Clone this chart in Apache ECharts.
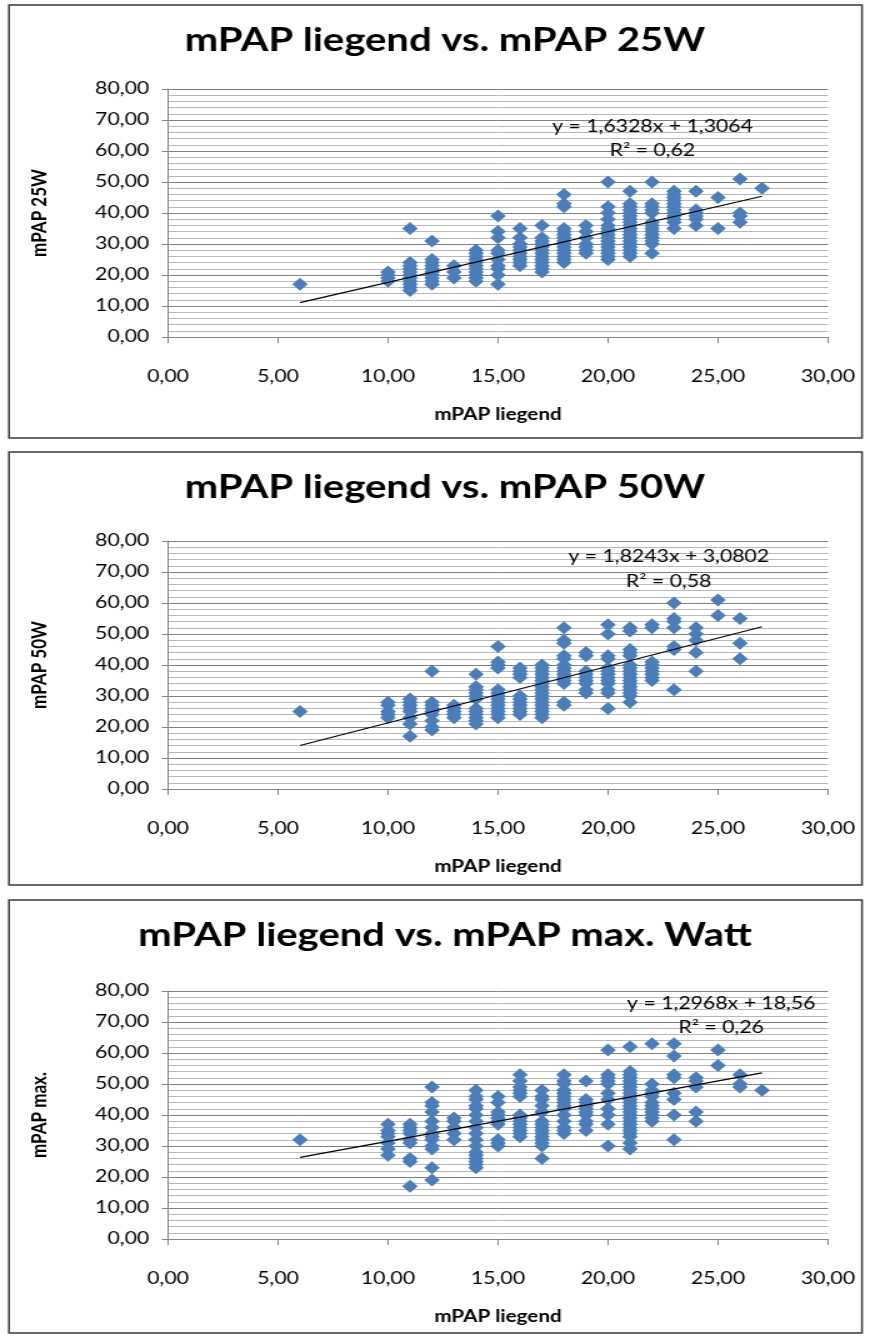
<!DOCTYPE html>
<html>
<head>
<meta charset="utf-8">
<script src="https://cdn.jsdelivr.net/npm/echarts@6/dist/echarts.min.js"></script>
<style>
html,body{margin:0;padding:0;background:#fff;overflow:hidden;}
#wrap{width:872px;height:1338px;overflow:hidden;}
#chart{width:698px;height:1338px;transform:scaleX(1.25);transform-origin:0 0;}
</style>
</head>
<body>
<div id="wrap"><div id="chart"></div></div>
<script>
// ---- data ----
const panelTitles = ['mPAP liegend vs. mPAP 25W', 'mPAP liegend vs. mPAP 50W', 'mPAP liegend vs. mPAP max. Watt'];
const yAxisTitles = ['mPAP 25W', 'mPAP 50W', 'mPAP max.'];
const xAxisTitle = 'mPAP liegend';
const xTicks = [0, 5, 10, 15, 20, 25, 30];
const yTicks = [0, 10, 20, 30, 40, 50, 60, 70, 80];

const liegendX25 = [6, 10, 11, 12, 13, 14, 15, 16, 17, 18, 19, 20, 21, 22, 23, 24, 25, 26, 27];
const pap25W = [
  [17],
  [18, 19, 20, 21],
  [15, 16, 17, 18, 19, 20, 21, 22, 23, 24, 35],
  [17, 18, 19, 20, 21, 22, 23, 24, 25, 31],
  [19, 21, 23],
  [18, 19, 20, 21, 22, 23, 24, 25, 26, 27, 28],
  [17, 20, 22, 23, 25, 27, 28, 32, 34, 39],
  [23, 24, 25, 26, 27, 28, 29, 30, 32, 35],
  [21, 22, 23, 24, 25, 26, 27, 28, 29, 30, 31, 32, 36],
  [24, 25, 26, 27, 28, 29, 30, 31, 32, 33, 34, 35, 42, 43, 46],
  [27, 28, 29, 30, 32, 34, 36],
  [25, 26, 27, 28, 29, 30, 31, 32, 33, 34, 35, 36, 38, 40, 42, 50],
  [26, 27, 28, 29, 30, 31, 32, 33, 34, 35, 36, 37, 38, 39, 40, 41, 42, 43, 47],
  [27, 30, 31, 32, 33, 34, 35, 36, 37, 40, 41, 42, 43, 50],
  [35, 37, 38, 39, 40, 41, 42, 43, 44, 45, 46, 47],
  [36, 38, 39, 40, 41, 47],
  [35, 45],
  [37, 39, 40, 51],
  [48]
];

const liegendX50 = [6, 10, 11, 12, 13, 14, 15, 16, 17, 18, 19, 20, 21, 22, 23, 24, 25, 26];
const pap50W = [
  [25],
  [23, 24, 25, 27, 28],
  [17, 21, 23, 25, 26, 27, 28, 29],
  [19, 20, 22, 24, 25, 26, 27, 28, 38],
  [23, 24, 25, 26, 27],
  [21, 22, 23, 24, 25, 26, 29, 30, 31, 32, 33, 37],
  [23, 24, 25, 26, 27, 28, 29, 30, 31, 32, 39, 40, 41, 46],
  [24, 25, 26, 27, 28, 29, 30, 36, 37, 38, 39],
  [23, 24, 25, 26, 27, 28, 29, 30, 31, 32, 33, 34, 35, 36, 37, 38, 39, 40],
  [27, 28, 34, 35, 36, 37, 38, 39, 40, 42, 43, 47, 48, 52],
  [31, 32, 34, 35, 36, 37, 38, 43, 44],
  [26, 31, 32, 34, 35, 36, 37, 38, 39, 42, 43, 50, 53],
  [28, 30, 31, 32, 33, 34, 35, 36, 37, 38, 39, 40, 43, 44, 45, 51, 52],
  [35, 36, 37, 38, 39, 40, 41, 52, 53],
  [32, 45, 46, 52, 54, 55, 60],
  [38, 44, 48, 50, 52],
  [56, 61],
  [42, 47, 55]
];

const liegendXMax = [6, 10, 11, 12, 13, 14, 15, 16, 17, 18, 19, 20, 21, 22, 23, 24, 25, 26, 27];
const papMax = [
  [32],
  [27, 29, 31, 33, 34, 35, 37],
  [17, 25, 26, 31, 32, 34, 35, 36, 37],
  [19, 23, 29, 30, 32, 33, 34, 36, 38, 41, 43, 44, 49],
  [32, 34, 36, 38, 39],
  [23, 24, 25, 26, 27, 28, 30, 32, 34, 36, 38, 40, 42, 43, 45, 46, 48],
  [30, 31, 32, 37, 38, 39, 40, 41, 44, 46],
  [33, 34, 35, 36, 37, 38, 39, 40, 46, 47, 48, 49, 51, 53],
  [26, 30, 31, 32, 33, 34, 35, 36, 37, 38, 41, 43, 45, 46, 48],
  [34, 35, 36, 38, 40, 42, 43, 44, 45, 46, 47, 48, 50, 51, 53],
  [35, 37, 38, 40, 41, 42, 43, 44, 45, 51],
  [30, 37, 40, 42, 45, 47, 50, 51, 52, 53, 61],
  [29, 31, 33, 34, 35, 36, 37, 38, 39, 40, 41, 42, 43, 44, 45, 46, 47, 48, 49, 50, 51, 52, 53, 54, 62],
  [38, 39, 40, 41, 42, 43, 44, 46, 47, 48, 50, 63],
  [32, 40, 45, 47, 52, 53, 59, 63],
  [38, 41, 49, 51, 52],
  [56, 61],
  [49, 50, 53],
  [48]
];

const trendSlopes = [1.6328, 1.8243, 1.2968];
const trendIntercepts = [1.3064, 3.0802, 18.56];
const trendRange = [6, 27];
const equationLabels = ['y = 1,6328x + 1,3064', 'y = 1,8243x + 3,0802', 'y = 1,2968x + 18,56'];
const r2Labels = ['R² = 0,62', 'R² = 0,58', 'R² = 0,26'];

// ---- build ----
// The reference picture is horizontally stretched (~1.25x); the chart is drawn
// in a narrower canvas and stretched with CSS, so all x positions below are in
// the un-stretched space.
const xCols = [liegendX25, liegendX50, liegendXMax];
const yCols = [pap25W, pap50W, papMax];

const FONT = 'Lato, "Open Sans", sans-serif';
const fmt = v => v.toFixed(2).replace('.', ',');

const panelTop = [5, 452, 900];
const gridTop = [89, 541, 991];
const eqPos = [[522, 127, 151], [535, 557, 582], [577, 1004, 1028]];

const grids = [], xAxes = [], yAxes = [], series = [], graphics = [];
for (let i = 0; i < 3; i++) {
  grids.push({left: 134.4, top: gridTop[i], width: 528, height: 248});
  xAxes.push({
    gridIndex: i, type: 'value', min: xTicks[0], max: xTicks[xTicks.length - 1], interval: 5,
    axisLabel: {formatter: fmt, fontSize: 17, color: '#000', margin: 31, fontFamily: FONT},
    axisLine: {show: true, onZero: false, lineStyle: {color: '#868686', width: 1}},
    axisTick: {show: true, length: 6, lineStyle: {color: '#868686'}},
    splitLine: {show: false},
    name: xAxisTitle, nameLocation: 'middle', nameGap: 69,
    nameTextStyle: {fontWeight: 'bold', fontSize: 16.5, color: '#000', fontFamily: FONT}
  });
  yAxes.push({
    gridIndex: i, type: 'value', min: yTicks[0], max: yTicks[yTicks.length - 1], interval: 10,
    axisLabel: {formatter: fmt, fontSize: 17, color: '#000', margin: 15, fontFamily: FONT},
    axisLine: {show: true, lineStyle: {color: '#868686', width: 1}},
    axisTick: {show: true, length: 5, lineStyle: {color: '#868686'}},
    splitLine: {show: true, lineStyle: {color: '#808080', width: 1}},
    minorTick: {show: false, splitNumber: 5},
    minorSplitLine: {show: true, lineStyle: {color: '#b8b8b8', width: 1}},
    name: yAxisTitles[i], nameLocation: 'middle', nameGap: 94, nameRotate: 90,
    nameTextStyle: {fontWeight: 'bold', fontSize: 17, color: '#000', fontFamily: FONT}
  });
  const pts = [];
  xCols[i].forEach((x, k) => yCols[i][k].forEach(y => pts.push([x, y])));
  series.push({
    type: 'scatter', xAxisIndex: i, yAxisIndex: i, data: pts,
    symbol: 'diamond', symbolSize: [12.5, 13],
    itemStyle: {color: '#4a7ebb', opacity: 1}, z: 2, silent: true
  });
  const line = trendRange.map(x => [x, trendSlopes[i] * x + trendIntercepts[i]]);
  series.push({
    type: 'line', xAxisIndex: i, yAxisIndex: i, data: line,
    symbol: 'none', lineStyle: {color: '#000', width: 1.2}, z: 3, silent: true
  });
  graphics.push({
    type: 'text', x: 356, y: panelTop[i] + 36,
    style: {text: panelTitles[i], fontSize: 32, fontWeight: 'bold', fill: '#000', fontFamily: FONT, textAlign: 'center', textVerticalAlign: 'middle'}, z: 10
  });
  graphics.push({
    type: 'rect', shape: {x: 7.2, y: panelTop[i], width: 682.4, height: 433},
    style: {fill: 'none', stroke: '#3a3a3a', lineWidth: 1.5}, z: 10
  });
  graphics.push({
    type: 'text', x: eqPos[i][0], y: eqPos[i][1],
    style: {text: equationLabels[i], fontSize: 17, fill: '#000', fontFamily: FONT, textAlign: 'center', textVerticalAlign: 'middle'}, z: 10
  });
  graphics.push({
    type: 'text', x: eqPos[i][0], y: eqPos[i][2],
    style: {text: r2Labels[i], fontSize: 17, fill: '#000', fontFamily: FONT, textAlign: 'center', textVerticalAlign: 'middle'}, z: 10
  });
}

const chart = echarts.init(document.getElementById('chart'), null, {renderer: 'canvas'});
chart.setOption({
  animation: false,
  backgroundColor: '#fff',
  grid: grids,
  xAxis: xAxes,
  yAxis: yAxes,
  series: series,
  graphic: graphics
});
</script>
</body>
</html>
